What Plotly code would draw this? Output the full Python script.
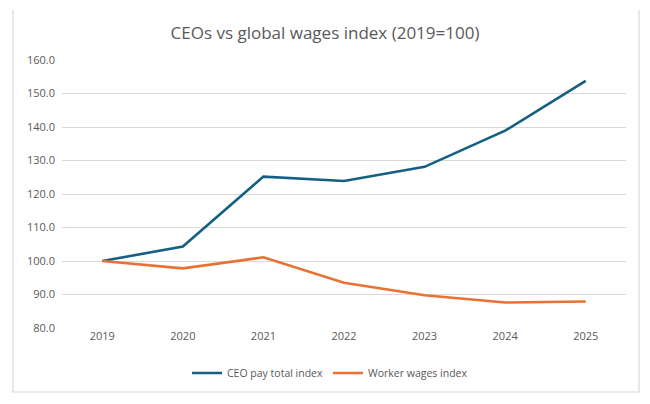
import plotly.graph_objects as go

# Index values (2019 = 100)
years = ['2019', '2020', '2021', '2022', '2023', '2024', '2025']
ceo_pay = [100.0, 104.3, 125.2, 123.9, 128.1, 138.9, 153.8]
worker_wages = [100.0, 97.8, 101.1, 93.5, 89.8, 87.6, 87.9]
y_ticks = [80, 90, 100, 110, 120, 130, 140, 150, 160]

W, H = 650, 404
ml, mr, mt, mb = 62, 24, 60, 76
pw, ph = W - ml - mr, H - mt - mb

fig = go.Figure()
fig.add_trace(go.Scatter(x=years, y=ceo_pay, name='CEO pay total index', mode='lines',
                         line=dict(color='#156082', width=2.6)))
fig.add_trace(go.Scatter(x=years, y=worker_wages, name='Worker wages index', mode='lines',
                         line=dict(color='#E97132', width=2.6)))

# light chart-area border (left, bottom, right; top is cut off in the original)
bx0, bx1 = (13 - ml) / pw, (639 - ml) / pw
by0, by1 = (ph + mt - 392) / ph, (ph + mt - 10) / ph
fig.add_shape(type='path', xref='paper', yref='paper', layer='below',
              path=f'M {bx0},{by1} L {bx0},{by0} L {bx1},{by0} L {bx1},{by1}',
              line=dict(color='#d9d9d9', width=1.2))

fig.update_layout(
    width=W, height=H,
    margin=dict(l=ml, r=mr, t=mt, b=mb, autoexpand=False),
    paper_bgcolor='white', plot_bgcolor='white',
    font=dict(family='Open Sans', color='#595959', size=11),
    title=dict(text='CEOs vs global wages index (2019=100)', x=0.5, xanchor='center',
               y=1 - 33 / H, yanchor='middle', font=dict(size=17, color='#595959')),
    xaxis=dict(type='category', range=[-0.5, 6.5], showgrid=False, showline=False,
               ticks='', tickfont=dict(size=11), automargin=False),
    yaxis=dict(range=[80, 160], tickvals=y_ticks, tickformat='.1f', showgrid=True,
               gridcolor='#d9d9d9', gridwidth=1, zeroline=False, showline=False,
               ticks='', ticklabelstandoff=6, tickfont=dict(size=11), automargin=False),
    legend=dict(orientation='h', x=(330 - ml) / pw, xanchor='center',
                y=(ph + mt - 373) / ph, yanchor='middle',
                font=dict(size=10.5), itemwidth=30),
    showlegend=True,
)

# drop the default page margin so the figure sits at the window's corner
fig.write_html("out.html", config={'displayModeBar': False},
               post_script="document.body.style.margin = '0';")
